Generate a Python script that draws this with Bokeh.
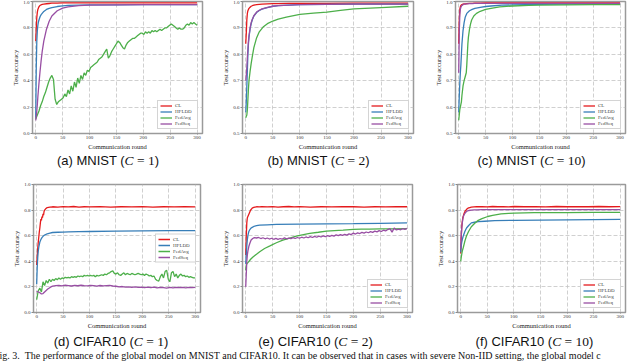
from bokeh.plotting import figure
from bokeh.layouts import row, column
from bokeh.models import Range1d, FixedTicker, PrintfTickFormatter, Div, Legend, LegendItem
from bokeh.embed import file_html
from bokeh.resources import INLINE

# ---------------- data ----------------
SERIES = ["CL", "HFLDD", "FedAvg", "FedSeq"]
COLORS = {"CL": "#e41a1c", "HFLDD": "#377eb8", "FedAvg": "#4daf4a", "FedSeq": "#984ea3"}
X_TICKS = [0, 50, 100, 150, 200, 250, 300]
Y_TICKS_FULL = [0.0, 0.2, 0.4, 0.6, 0.8, 1.0]
Y_TICKS_MNIST = [0.5, 0.6, 0.7, 0.8, 0.9, 1.0]

x_s = [0, 1, 2, 3, 4, 5, 6, 8, 10, 12, 15, 20, 25, 30, 40, 50, 60, 80, 100, 150, 200, 250, 300]
x_cl = [0, 1, 2, 3, 4, 5, 6, 7, 8, 9, 10, 11, 12, 13, 14, 15, 17, 20, 25, 30,
        40, 50, 60, 70, 80, 90, 100, 120, 140, 160, 180, 200, 220, 240, 260, 280, 300]
x_step3 = list(range(0, 301, 3))

# (a) MNIST C=1
a_cl = [0.70, 0.80, 0.88, 0.92, 0.94, 0.95, 0.96, 0.97, 0.975, 0.978, 0.98, 0.983, 0.985, 0.987, 0.988,
        0.989, 0.99, 0.99, 0.99, 0.99, 0.99, 0.99, 0.99]
a_hf = [0.12, 0.50, 0.70, 0.78, 0.82, 0.845, 0.86, 0.885, 0.90, 0.91, 0.925, 0.94, 0.948, 0.953, 0.962,
        0.967, 0.97, 0.973, 0.974, 0.975, 0.976, 0.976, 0.977]
a_fs = [0.10, 0.13, 0.17, 0.22, 0.28, 0.33, 0.38, 0.47, 0.55, 0.62, 0.70, 0.79, 0.85, 0.89, 0.93,
        0.95, 0.96, 0.968, 0.972, 0.975, 0.976, 0.976, 0.977]
a_fa = [0.11, 0.14, 0.17, 0.21, 0.24, 0.28, 0.31, 0.35, 0.39, 0.42,
        0.44, 0.41, 0.26, 0.22, 0.24, 0.25, 0.26, 0.27, 0.30, 0.28,
        0.33, 0.30, 0.36, 0.32, 0.39, 0.35, 0.42, 0.38, 0.44, 0.41,
        0.46, 0.44, 0.48, 0.47, 0.50, 0.51, 0.52, 0.53, 0.54, 0.56,
        0.57, 0.58, 0.60, 0.62, 0.64, 0.57, 0.59, 0.62, 0.64, 0.66,
        0.68, 0.70, 0.69, 0.67, 0.65, 0.64, 0.67, 0.69, 0.70, 0.71,
        0.72, 0.72, 0.73, 0.74, 0.75, 0.76, 0.76, 0.75, 0.77, 0.76,
        0.77, 0.76, 0.78, 0.77, 0.78, 0.77, 0.78, 0.79, 0.78, 0.79,
        0.80, 0.80, 0.81, 0.82, 0.83, 0.82, 0.81, 0.80, 0.79, 0.80,
        0.79, 0.79, 0.80, 0.82, 0.83, 0.82, 0.84, 0.83, 0.84, 0.83,
        0.82]

# (b) MNIST C=2
b_cl = [0.84, 0.88, 0.93, 0.955, 0.965, 0.97, 0.974, 0.978, 0.982, 0.984, 0.986, 0.988, 0.989, 0.99, 0.991,
        0.992, 0.992, 0.993, 0.993, 0.993, 0.994, 0.994, 0.994]
b_hf = [0.58, 0.62, 0.68, 0.74, 0.80, 0.84, 0.865, 0.895, 0.915, 0.93, 0.945, 0.958, 0.966, 0.971, 0.977,
        0.982, 0.984, 0.986, 0.988, 0.989, 0.99, 0.99, 0.99]
b_fs = [0.70, 0.72, 0.75, 0.79, 0.82, 0.85, 0.87, 0.90, 0.92, 0.932, 0.946, 0.96, 0.967, 0.972, 0.978,
        0.982, 0.984, 0.986, 0.988, 0.989, 0.99, 0.99, 0.99]
b_fa_x = [0, 1, 2, 3, 4, 5, 6, 8, 10, 12, 15, 20, 25, 32, 40, 50, 60, 75, 100, 125, 150, 175, 200, 250, 300]
b_fa = [0.56, 0.565, 0.57, 0.59, 0.63, 0.67, 0.70, 0.735, 0.765, 0.79, 0.825, 0.862, 0.885, 0.903, 0.916,
        0.926, 0.933, 0.941, 0.951, 0.956, 0.96, 0.966, 0.972, 0.977, 0.982]

# (c) MNIST C=10
c_cl = [0.84, 0.93, 0.97, 0.98, 0.985, 0.987, 0.988, 0.99, 0.991, 0.991, 0.992, 0.993, 0.993, 0.994, 0.994,
        0.995, 0.995, 0.995, 0.995, 0.995, 0.995, 0.995, 0.995]
c_fs = [0.73, 0.88, 0.95, 0.97, 0.978, 0.982, 0.985, 0.988, 0.99, 0.99, 0.991, 0.992, 0.992, 0.993, 0.993,
        0.993, 0.993, 0.993, 0.993, 0.993, 0.993, 0.993, 0.993]
c_hf = [0.58, 0.64, 0.69, 0.73, 0.76, 0.80, 0.84, 0.89, 0.92, 0.94, 0.955, 0.965, 0.97, 0.974, 0.978,
        0.981, 0.983, 0.986, 0.987, 0.989, 0.99, 0.99, 0.99]
c_fa_x = [0, 1, 2, 3, 4, 5, 6, 8, 10, 12, 14, 15, 16, 17, 18, 20, 22, 24, 28, 33,
          40, 50, 60, 76, 100, 130, 150, 200, 250, 300]
c_fa = [0.55, 0.57, 0.59, 0.60, 0.61, 0.62, 0.645, 0.68, 0.70, 0.715, 0.73, 0.76, 0.80, 0.84, 0.865,
        0.895, 0.915, 0.93, 0.945, 0.955, 0.963, 0.97, 0.974, 0.98, 0.983, 0.985, 0.986, 0.987, 0.988, 0.988]

# (d) CIFAR10 C=1
d_cl = [0.37, 0.44, 0.50, 0.55, 0.59, 0.63, 0.66, 0.70, 0.73, 0.72,
        0.75, 0.74, 0.77, 0.76, 0.79, 0.80, 0.81, 0.82, 0.823, 0.826,
        0.824, 0.827, 0.825, 0.828, 0.824, 0.826, 0.825, 0.827, 0.824, 0.826,
        0.825, 0.827, 0.824, 0.826, 0.825, 0.826, 0.825]
d_hf = [0.22, 0.35, 0.43, 0.48, 0.51, 0.53, 0.55, 0.57, 0.585, 0.595, 0.605, 0.615, 0.62, 0.625, 0.627,
        0.628, 0.63, 0.632, 0.633, 0.636, 0.638, 0.64, 0.64]
d_fa = [0.10, 0.17, 0.19, 0.16, 0.24, 0.21, 0.25, 0.23, 0.26, 0.24,
        0.26, 0.25, 0.265, 0.255, 0.27, 0.26, 0.27, 0.265, 0.275, 0.27,
        0.275, 0.27, 0.28, 0.275, 0.28, 0.275, 0.285, 0.28, 0.285, 0.28,
        0.29, 0.285, 0.29, 0.285, 0.29, 0.285, 0.29, 0.28, 0.29, 0.285,
        0.29, 0.295, 0.29, 0.30, 0.295, 0.305, 0.31, 0.32, 0.325, 0.305,
        0.30, 0.31, 0.295, 0.29, 0.30, 0.31, 0.295, 0.305, 0.30, 0.295,
        0.305, 0.30, 0.295, 0.30, 0.305, 0.30, 0.295, 0.30, 0.29, 0.30,
        0.295, 0.285, 0.29, 0.28, 0.285, 0.26, 0.25, 0.245, 0.28, 0.30,
        0.27, 0.32, 0.33, 0.26, 0.24, 0.31, 0.32, 0.28, 0.30, 0.27,
        0.29, 0.30, 0.285, 0.29, 0.28, 0.285, 0.275, 0.28, 0.275, 0.27,
        0.27]
d_fs_x = [0, 3, 6, 9, 12, 15, 18, 21, 24, 27, 30] + list(range(36, 301, 6))
d_fs = [0.165, 0.16, 0.155, 0.145, 0.148, 0.16, 0.172, 0.183, 0.192, 0.20, 0.206,
        0.21, 0.212, 0.208, 0.213, 0.21, 0.207, 0.212, 0.209, 0.213, 0.21,
        0.208, 0.212, 0.21, 0.206, 0.211, 0.208, 0.21, 0.212, 0.207, 0.205,
        0.20, 0.203, 0.198, 0.201, 0.197, 0.20, 0.196, 0.199, 0.195, 0.199,
        0.194, 0.198, 0.192, 0.197, 0.195, 0.19, 0.196, 0.193, 0.197, 0.194,
        0.196, 0.193, 0.197, 0.194, 0.196]

# (e) CIFAR10 C=2
e_cl = [0.45, 0.60, 0.70, 0.74, 0.75, 0.76, 0.77, 0.78, 0.79, 0.80,
        0.805, 0.81, 0.815, 0.817, 0.82, 0.822, 0.824, 0.826, 0.825, 0.827,
        0.825, 0.827, 0.824, 0.826, 0.828, 0.825, 0.827, 0.824, 0.826, 0.825,
        0.827, 0.826, 0.824, 0.826, 0.825, 0.827, 0.826]
e_hf_x = [0, 1, 2, 3, 4, 5, 6, 8, 10, 12, 15, 20, 26, 40, 57, 100, 150, 200, 250, 300]
e_hf = [0.38, 0.45, 0.52, 0.57, 0.60, 0.62, 0.635, 0.65, 0.66, 0.665, 0.672, 0.678, 0.682, 0.685, 0.688,
        0.69, 0.692, 0.694, 0.697, 0.70]
e_fa_x = [0, 1, 2, 4, 6, 8, 10, 14, 20, 26, 35, 45, 57, 69, 80, 94, 105, 119, 135, 150,
          165, 181, 200, 215, 230, 250, 270, 300]
e_fa = [0.33, 0.37, 0.38, 0.39, 0.40, 0.41, 0.42, 0.436, 0.455, 0.475,
        0.50, 0.52, 0.545, 0.566, 0.58, 0.597, 0.607, 0.618, 0.627, 0.636,
        0.64, 0.644, 0.65, 0.651, 0.652, 0.653, 0.654, 0.655]
e_fs_x = [0, 1, 2, 3, 4, 5, 6, 8, 10, 13, 16] + list(range(20, 301, 4))
e_fs = [0.20, 0.30, 0.40, 0.45, 0.48, 0.50, 0.52, 0.545, 0.566, 0.578, 0.585,
        0.582, 0.586, 0.578, 0.584, 0.576, 0.582, 0.574, 0.58, 0.572, 0.579,
        0.571, 0.578, 0.574, 0.583, 0.575, 0.581, 0.577, 0.585, 0.578, 0.586,
        0.58, 0.588, 0.582, 0.59, 0.584, 0.593, 0.586, 0.595, 0.588, 0.597,
        0.59, 0.598, 0.592, 0.60, 0.594, 0.603, 0.597, 0.606, 0.60, 0.608,
        0.603, 0.611, 0.605, 0.614, 0.609, 0.62, 0.613, 0.622, 0.617, 0.626,
        0.62, 0.629, 0.623, 0.632, 0.626, 0.636, 0.63, 0.64, 0.633, 0.643,
        0.637, 0.648, 0.655, 0.628, 0.66, 0.645, 0.652, 0.646, 0.656, 0.65,
        0.657]

# (f) CIFAR10 C=10
f_cl = [0.46, 0.58, 0.67, 0.71, 0.74, 0.755, 0.77, 0.78, 0.79, 0.795,
        0.80, 0.805, 0.81, 0.813, 0.816, 0.818, 0.82, 0.823, 0.825, 0.826,
        0.827, 0.825, 0.828, 0.826, 0.827, 0.825, 0.828, 0.826, 0.827, 0.825,
        0.828, 0.826, 0.827, 0.826, 0.828, 0.826, 0.827]
f_fs = [0.50, 0.60, 0.66, 0.70, 0.73, 0.75, 0.76, 0.775, 0.785, 0.792, 0.797, 0.80, 0.801, 0.802, 0.803,
        0.803, 0.803, 0.803, 0.803, 0.803, 0.804, 0.803, 0.803]
f_fa_x = [0, 1, 2, 3, 5, 8, 11, 15, 20, 26, 33, 40, 51, 60, 76, 90, 101, 120, 138, 170, 200, 250, 300]
f_fa = [0.40, 0.43, 0.455, 0.48, 0.51, 0.56, 0.60, 0.635, 0.67, 0.695, 0.72, 0.733, 0.75, 0.758, 0.77,
        0.774, 0.776, 0.778, 0.78, 0.781, 0.781, 0.782, 0.782]
f_hf_x = [0, 1, 2, 3, 5, 8, 11, 15, 20, 26, 33, 45, 64, 100, 150, 200, 250, 300]
f_hf = [0.47, 0.52, 0.55, 0.57, 0.60, 0.635, 0.66, 0.68, 0.70, 0.705, 0.71, 0.713, 0.717, 0.72, 0.722,
        0.724, 0.726, 0.727]

SERIF = "Liberation Serif"
SANS = "Liberation Sans"


def make_panel(series, y_ticks, y_lo, width, left, right, top, frame_h, bottom, legend_loc):
    p = figure(width=width, height=top + frame_h + bottom,
               x_range=Range1d(-6, 310), y_range=Range1d(y_lo, 1.0),
               output_backend="svg", toolbar_location=None,
               min_border_left=left, min_border_right=right,
               min_border_top=top, min_border_bottom=bottom,
               background_fill_color="white", border_fill_color="white",
               outline_line_color="#9a9a9a", outline_line_width=1.5, margin=0)
    p.title.visible = False
    p.xaxis.ticker = FixedTicker(ticks=X_TICKS)
    p.yaxis.ticker = FixedTicker(ticks=y_ticks)
    p.yaxis.formatter = PrintfTickFormatter(format="%.1f")
    p.xaxis.axis_label = "Communication round"
    p.yaxis.axis_label = "Test accuracy"
    for ax in (p.xaxis[0], p.yaxis[0]):
        ax.axis_line_color = None
        ax.major_tick_line_color = "#888888"
        ax.major_tick_in = 0
        ax.minor_tick_line_color = None
        ax.major_label_text_font = SERIF
        ax.major_label_text_font_size = "5px"
        ax.major_label_text_color = "#333333"
        ax.axis_label_text_font = SERIF
        ax.axis_label_text_font_size = "6.5px"
        ax.axis_label_text_font_style = "normal"
        ax.axis_label_text_color = "#222222"
        ax.axis_label_standoff = 1
        ax.major_label_standoff = 1
    p.xaxis.major_tick_out = 1
    p.yaxis.major_tick_out = 2
    p.grid.grid_line_color = "#c4c4c4"
    p.grid.grid_line_dash = "4 2"
    p.grid.grid_line_width = 0.8

    items = []
    for name, xs, ys in series:
        r = p.line(xs, ys, line_color=COLORS[name], line_width=1.3)
        items.append(LegendItem(label=name, renderers=[r]))
    legend = Legend(items=items, location=legend_loc,
                    label_text_font=SERIF, label_text_font_size="5px",
                    label_height=5, glyph_height=5, glyph_width=12, spacing=1,
                    padding=2, margin=4, label_standoff=3,
                    border_line_color="#aaaaaa", border_line_width=0.8,
                    background_fill_color="white", background_fill_alpha=1.0)
    p.add_layout(legend)
    return p


def caption(letter, dataset, c, width, shift):
    html = ('<div style="width:%dpx;height:14px;line-height:14px;text-align:center;white-space:nowrap;'
            'font-family:\'%s\';font-size:13px;color:#111;position:relative;left:%dpx">'
            '(%s) %s (<span style="font-family:\'%s\';font-size:13.5px"><i>C</i> = %s</span>)</div>'
            % (width, SANS, shift, letter, dataset, SERIF, c))
    return Div(text=html, width=width, height=14, margin=0)


fa = make_panel([("CL", x_s, a_cl), ("HFLDD", x_s, a_hf), ("FedAvg", x_step3, a_fa), ("FedSeq", x_s, a_fs)],
                Y_TICKS_FULL, 0.0, 210, 32, 8, 1, 132, 20, "bottom_right")
fb = make_panel([("CL", x_s, b_cl), ("HFLDD", x_s, b_hf), ("FedAvg", b_fa_x, b_fa), ("FedSeq", x_s, b_fs)],
                Y_TICKS_MNIST, 0.5, 213, 32, 10, 1, 132, 20, "bottom_right")
fc = make_panel([("CL", x_s, c_cl), ("HFLDD", x_s, c_hf), ("FedAvg", c_fa_x, c_fa), ("FedSeq", x_s, c_fs)],
                Y_TICKS_MNIST, 0.5, 217, 32, 15, 1, 132, 20, "bottom_right")
fd = make_panel([("CL", x_cl, d_cl), ("HFLDD", x_s, d_hf), ("FedAvg", x_step3, d_fa), ("FedSeq", d_fs_x, d_fs)],
                Y_TICKS_FULL, 0.0, 210, 33, 10, 17, 128, 22, "center_right")
fe = make_panel([("CL", x_cl, e_cl), ("HFLDD", e_hf_x, e_hf), ("FedAvg", e_fa_x, e_fa), ("FedSeq", e_fs_x, e_fs)],
                Y_TICKS_FULL, 0.0, 213, 32, 11, 17, 128, 22, "bottom_right")
ff = make_panel([("CL", x_cl, f_cl), ("HFLDD", f_hf_x, f_hf), ("FedAvg", f_fa_x, f_fa), ("FedSeq", x_s, f_fs)],
                Y_TICKS_FULL, 0.0, 217, 34, 15, 17, 128, 22, "bottom_right")

ca = caption("a", "MNIST", "1", 210, 3)
cb = caption("b", "MNIST", "2", 213, 2)
cc = caption("c", "MNIST", "10", 217, 0)
cd = caption("d", "CIFAR10", "1", 210, 6)
ce = caption("e", "CIFAR10", "2", 213, -1)
cf = caption("f", "CIFAR10", "10", 217, 3)

fig_caption = Div(
    text=('<div style="width:646px;height:16px;line-height:16px;white-space:nowrap;overflow:hidden;'
          'font-family:\'%s\';font-size:10px;color:#111;position:relative;left:-6px">'
          'Fig. 3.&nbsp; The performance of the global model on MNIST and CIFAR10. It can be observed that '
          'in cases with severe Non-IID setting, the global model c</div>' % SERIF),
    width=640, height=16, margin=0)

layout = column(row(fa, fb, fc, spacing=0, margin=0),
                row(ca, cb, cc, spacing=0, margin=0),
                row(fd, fe, ff, spacing=0, margin=0),
                row(cd, ce, cf, spacing=0, margin=0),
                fig_caption, spacing=0, margin=0)

open("out.html", "w").write(file_html(layout, INLINE))
